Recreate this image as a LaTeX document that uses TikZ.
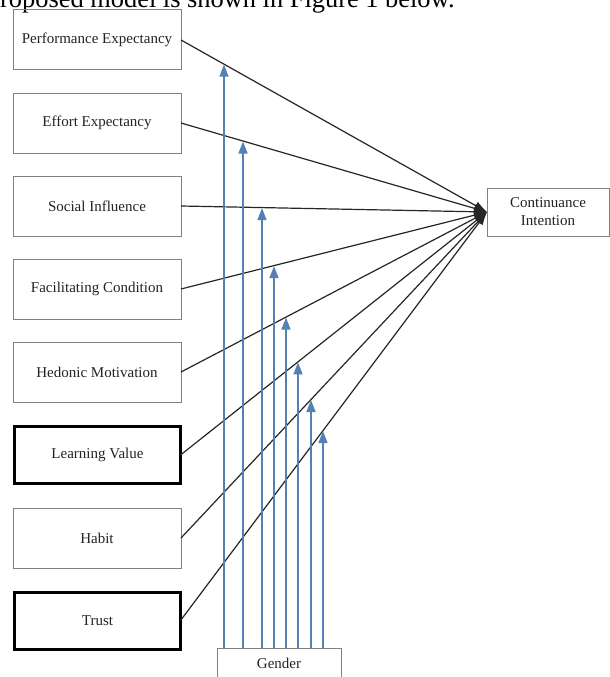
\documentclass[tikz,border=0pt]{standalone}
\usepackage{fontspec}
\setmainfont{Liberation Serif}
\usetikzlibrary{arrows.meta}
\definecolor{gbord}{RGB}{128,128,128}
\definecolor{bluel}{RGB}{84,128,178}
\definecolor{txt}{RGB}{35,35,35}
\begin{document}
\begin{tikzpicture}[x=1pt,y=-1pt,
  box/.style={draw=gbord, line width=1pt, minimum width=168pt, minimum height=60pt,
    inner sep=0pt, outer sep=0pt, text=txt, font=\fontsize{15}{18}\selectfont, align=center},
  thickbox/.style={box, draw=black, line width=3pt, minimum width=166pt, minimum height=57pt},
  mainline/.style={draw=black!85, line width=1.2pt, -{Latex[length=13pt,width=9pt]}},
  modline/.style={draw=bluel, line width=1.5pt, -{Triangle[length=12pt,width=9pt]}, shorten >=0.5pt}]
\useasboundingbox (0,0) rectangle (610,677);
\clip (0,0) rectangle (610,677);
\fill[white] (0,0) rectangle (610,677);
\node[anchor=base west, inner sep=0pt, text=black, font=\fontsize{26.4}{30}\selectfont] (cap) at (0,7.5) {roposed model is shown in Figure 1 below.};
\node[box] (pe) at (97,40) {Performance Expectancy};
\node[box] (ee) at (97,123) {Effort Expectancy};
\node[box] (si) at (97,206) {Social Influence};
\node[box] (fc) at (97,289) {Facilitating Condition};
\node[box] (hm) at (97,372) {Hedonic Motivation};
\node[thickbox] (lv) at (97.5,455) {Learning Value};
\node[box] (hb) at (97,538) {Habit};
\node[thickbox] (tr) at (97.5,620.5) {Trust};
\node[box, minimum width=122pt, minimum height=48pt] (ci) at (548,212) {Continuance\\Intention};
\node[box, minimum width=124pt, minimum height=30pt] (gd) at (279,663) {Gender};
\foreach \n in {pe,ee,si,fc,hm,lv,hb,tr}
  \draw[mainline] (\n.east) -- (ci.west);
\foreach \n/\x [count=\i] in {pe/224,ee/243,si/262,fc/274,hm/286,lv/298,hb/311,tr/323} {
  \coordinate (t\i) at (intersection cs: first line={(\n.east)--(ci.west)}, second line={(\x,0)--(\x,700)});
  \draw[modline] (gd.north -| t\i) -- (t\i);
}
\end{tikzpicture}
\end{document}
